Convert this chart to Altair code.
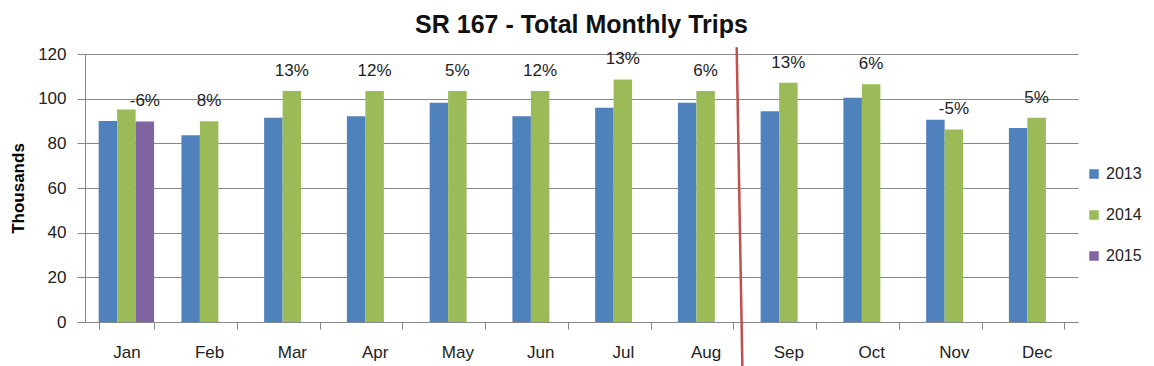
import altair as alt
import pandas as pd

months = ["Jan", "Feb", "Mar", "Apr", "May", "Jun", "Jul", "Aug", "Sep", "Oct", "Nov", "Dec"]
years = ["2013", "2014", "2015"]
v2013 = [90, 83.6, 91.4, 92.1, 98.2, 92.1, 95.9, 98.2, 94.4, 100.4, 90.6, 86.9]
v2014 = [95.1, 89.9, 103.4, 103.4, 103.4, 103.4, 108.6, 103.4, 107.1, 106.4, 86.2, 91.4]
v2015 = [89.8]
pct_labels = ["-6%", "8%", "13%", "12%", "5%", "12%", "13%", "6%", "13%", "6%", "-5%", "5%"]
colors = ["#4F81BD", "#9BBB59", "#8064A2"]

rows = []
for m, a, b in zip(months, v2013, v2014):
    rows.append({"month": m, "year": "2013", "value": a})
    rows.append({"month": m, "year": "2014", "value": b})
for m, c in zip(months, v2015):
    rows.append({"month": m, "year": "2015", "value": c})
df = pd.DataFrame(rows)

lab_rows = []
for i, (m, t) in enumerate(zip(months, pct_labels)):
    if i < len(v2015):
        lab_rows.append({"month": m, "year": "2015", "value": v2015[i], "text": t})
    else:
        lab_rows.append({"month": m, "year": "2014", "value": v2014[i], "text": t})
labels = pd.DataFrame(lab_rows)

# divider between Aug and Sep (month index position, thousands)
divider = pd.DataFrame({"pos": [7.875], "pos2": [7.945], "top": [123], "bottom": [-22]})

FONT = "Liberation Sans"

x_enc = alt.X("month:N", sort=months, title=None,
              scale=alt.Scale(paddingInner=0.33, paddingOuter=0.165),
              axis=alt.Axis(labelAngle=0, tickBand="extent", tickSize=7, labelPadding=15,
                            labelFontSize=17, labelFont=FONT, labelColor="#222",
                            domainColor="#888", tickColor="#888", grid=False))
y_scale = alt.Scale(domain=[0, 120], nice=False)
y_enc = alt.Y("value:Q", scale=y_scale, title="Thousands",
              axis=alt.Axis(values=[0, 20, 40, 60, 80, 100, 120], tickSize=8, labelPadding=11,
                            labelFontSize=17, labelFont=FONT, labelColor="#222",
                            titleFont=FONT, titleFontSize=17, titleFontWeight="bold",
                            titleColor="#000", titlePadding=10,
                            domainColor="#888", tickColor="#888", gridColor="#888"))

bars = alt.Chart(df).mark_bar().encode(
    x=x_enc,
    xOffset=alt.XOffset("year:N", sort=years, scale=alt.Scale(domain=years, paddingInner=0)),
    y=y_enc,
    color=alt.Color("year:N", sort=years,
                    scale=alt.Scale(domain=years, range=colors),
                    legend=alt.Legend(title=None, orient="none", legendX=1001, legendY=112,
                                      symbolType="square", symbolSize=90, symbolStrokeWidth=0,
                                      labelFontSize=16, labelFont=FONT, labelColor="#222",
                                      rowPadding=25, labelOffset=4)),
)

text = alt.Chart(labels).mark_text(baseline="middle", dy=-20, fontSize=17, font=FONT,
                                   color="#222").encode(
    x=alt.X("month:N", sort=months),
    xOffset=alt.XOffset("year:N", sort=years, scale=alt.Scale(domain=years)),
    y=alt.Y("value:Q", scale=y_scale),
    text="text:N",
)

main = alt.layer(bars, text)

line = alt.Chart(divider).mark_rule(color="#C0504D", strokeWidth=2.5).encode(
    x=alt.X("pos:Q", scale=alt.Scale(domain=[0, 12], nice=False, zero=False), axis=None),
    x2="pos2:Q",
    y=alt.Y("top:Q", scale=y_scale),
    y2="bottom:Q",
)

chart = alt.layer(main, line).resolve_scale(x="independent").properties(
    width=993, height=268,
    title=alt.TitleParams("SR 167 - Total Monthly Trips", font=FONT, fontSize=25,
                          fontWeight="bold", color="#111", offset=7, anchor="middle"),
    autosize=alt.AutoSizeParams(type="none"),
    padding={"left": 77, "top": 46, "right": 68, "bottom": 44},
).configure_view(stroke=None).configure_axis(gridWidth=1)

chart.save("out.html", embed_options={"renderer": "svg", "actions": False})
